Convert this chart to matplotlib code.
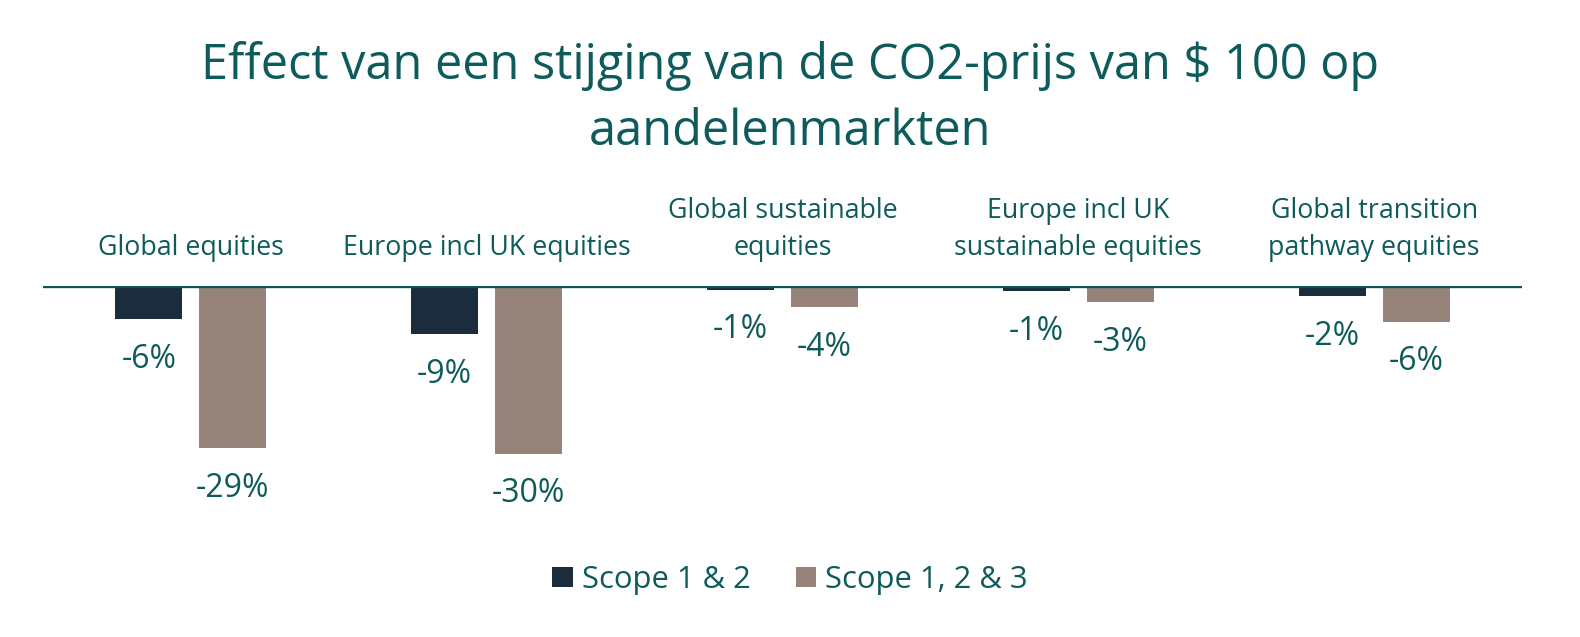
import matplotlib.pyplot as plt
import numpy as np

categories = ["Global equities", "Europe incl UK equities", "Global sustainable\nequities",
              "Europe incl UK\nsustainable equities", "Global transition\npathway equities"]
scope_12 = [-5.9, -8.6, -0.7, -0.9, -1.8]
scope_123 = [-29.0, -30.0, -3.8, -2.9, -6.4]
series_names = ["Scope 1 & 2", "Scope 1, 2 & 3"]

TEXT = "#0d5b5a"
DARK = "#1b2d3c"
TAUPE = "#958379"

plt.rcParams["font.family"] = ["Open Sans", "DejaVu Sans"]

fig = plt.figure(figsize=(15.8, 6.37), dpi=100)
W, H = 1580, 637
ax = fig.add_axes([43 / W, 1 - 538 / H, (1522 - 43) / W, 252 / H])

x = np.arange(len(categories))
w = 0.226
off = 0.142
b1 = ax.bar(x - off, scope_12, w, color=DARK, label=series_names[0])
b2 = ax.bar(x + off, scope_123, w, color=TAUPE, label=series_names[1])
ax.axhline(0, color="#0b5457", lw=2.4, zorder=3)

ax.set_xlim(-0.5, len(categories) - 0.5)
ax.set_ylim(-45, 0)
ax.axis("off")

# value labels under each bar
for bars, vals in ((b1, scope_12), (b2, scope_123)):
    for rect, v in zip(bars, vals):
        ax.annotate(f"{v:.0f}%", (rect.get_x() + rect.get_width() / 2, v),
                    xytext=(0, -40 * 0.72), textcoords="offset points",
                    ha="center", va="center", fontsize=23, color=TEXT,
                    annotation_clip=False)

# category names above the zero line
for xi, cat in zip(x, categories):
    ax.annotate(cat, (xi, 0), xytext=(0, 24 * 0.72), textcoords="offset points",
                ha="center", va="bottom", fontsize=19.3, color=TEXT,
                linespacing=1.42, annotation_clip=False)

fig.text(0.5, 1 - 99 / H, "Effect van een stijging van de CO2-prijs van $ 100 op\naandelenmarkten",
         ha="center", va="center", fontsize=35, color=TEXT, linespacing=1.45)

fig.legend(handles=[b1, b2], labels=series_names, loc="center", bbox_to_anchor=(0.5, 1 - 580 / H),
           ncol=2, frameon=False, fontsize=22.3, labelcolor=TEXT, handlelength=0.65,
           handleheight=0.65, handletextpad=0.3, columnspacing=1.45)

fig.savefig("out.png", dpi=100)
